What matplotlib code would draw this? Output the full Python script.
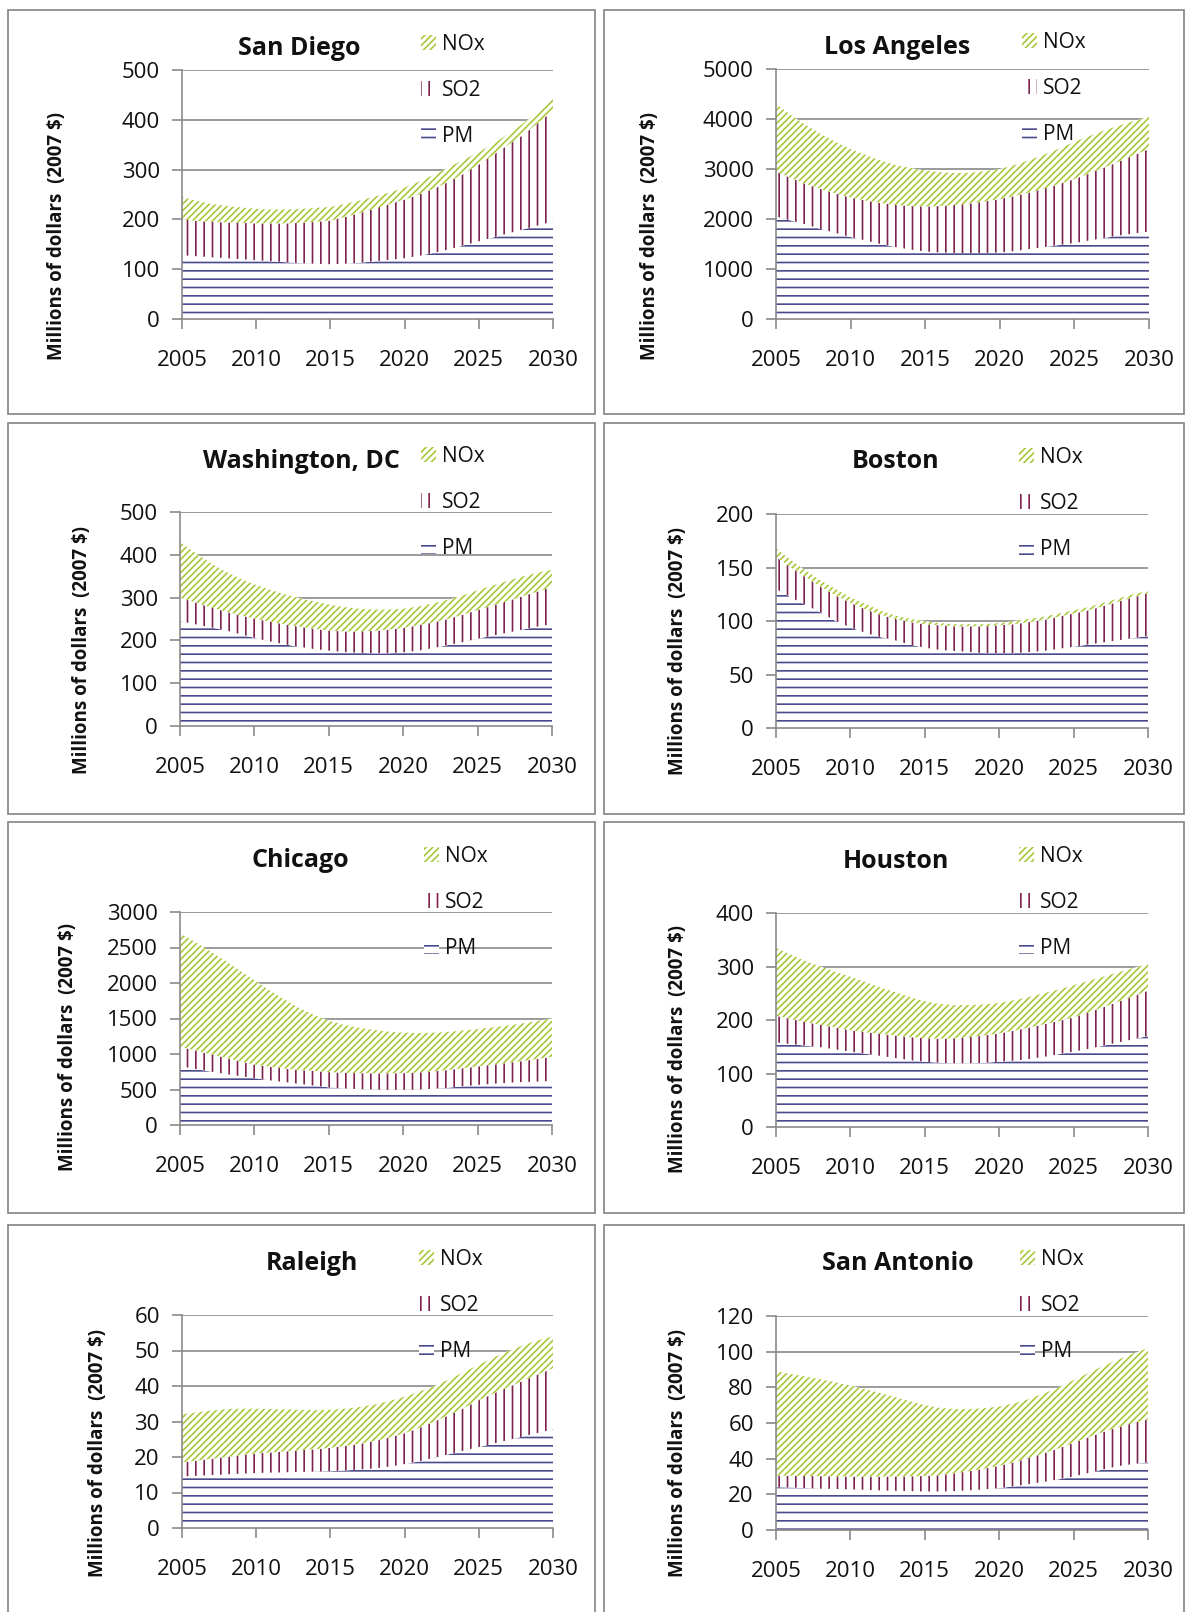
import matplotlib
matplotlib.use("Agg")
import matplotlib.pyplot as plt
from matplotlib.patches import Patch, Rectangle
import numpy as np

plt.rcParams['font.family'] = ['Open Sans', 'DejaVu Sans']
plt.rcParams['hatch.linewidth'] = 1.2

years = list(range(2005, 2031))
series_names = ["NOx", "SO2", "PM"]

# values in millions of 2007 dollars, stacked PM (bottom), SO2, NOx (top)
sd_pm = [128, 126, 124, 122, 120, 118, 116, 114, 112, 111, 110, 111, 113, 116, 119, 122, 127, 133, 140, 148, 156, 164, 172, 180, 188, 196]
sd_so2 = [72, 71, 71, 72, 73, 74, 76, 78, 81, 84, 88, 94, 100, 106, 112, 118, 123, 129, 136, 144, 154, 166, 178, 190, 206, 222]
sd_nox = [45, 40, 36, 33, 31, 29, 28, 28, 28, 28, 27, 26, 25, 24, 23, 24, 26, 28, 29, 28, 25, 22, 22, 23, 24, 25]

la_pm = [2050, 1970, 1890, 1800, 1720, 1640, 1570, 1500, 1440, 1390, 1350, 1330, 1320, 1320, 1320, 1330, 1360, 1400, 1440, 1480, 1520, 1570, 1620, 1670, 1710, 1750]
la_so2 = [900, 850, 810, 800, 790, 790, 800, 820, 840, 870, 900, 930, 960, 990, 1030, 1070, 1100, 1130, 1170, 1220, 1280, 1340, 1410, 1480, 1570, 1650]
la_nox = [1350, 1260, 1180, 1100, 1030, 970, 910, 850, 800, 760, 720, 675, 640, 615, 605, 600, 620, 650, 680, 710, 740, 750, 740, 720, 680, 650]

dc_pm = [245, 238, 231, 224, 215, 206, 198, 191, 185, 180, 176, 173, 171, 170, 170, 172, 176, 182, 189, 196, 204, 211, 218, 225, 232, 238]
dc_so2 = [55, 51, 47, 44, 44, 45, 46, 47, 47, 47, 47, 48, 50, 52, 55, 57, 59, 60, 61, 64, 67, 70, 74, 78, 82, 87]
dc_nox = [130, 116, 104, 94, 86, 80, 75, 70, 67, 64, 61, 57, 53, 50, 47, 45, 44, 44, 45, 45, 46, 47, 47, 46, 44, 40]

bos_pm = [130, 122, 115, 108, 100, 94, 89, 85, 82, 78, 75, 73, 72, 71, 70, 70, 70, 71, 72, 74, 76, 78, 80, 82, 84, 86]
bos_so2 = [30, 28, 26, 24, 24, 23, 22, 21, 20, 21, 22, 23, 23, 24, 25, 26, 27, 28, 29, 30, 31, 32, 34, 36, 38, 40]
bos_nox = [8, 7, 6, 6, 6, 5, 5, 4, 3, 3, 3, 2, 2, 2, 2, 2, 3, 3, 3, 3, 3, 3, 3, 3, 3, 2]

chi_pm = [830, 790, 755, 720, 690, 660, 630, 605, 580, 555, 530, 515, 505, 500, 495, 495, 500, 510, 525, 545, 565, 580, 595, 605, 612, 620]
chi_so2 = [270, 260, 245, 230, 210, 190, 190, 190, 195, 205, 215, 220, 225, 228, 233, 235, 240, 245, 250, 255, 260, 270, 280, 295, 318, 340]
chi_nox = [1600, 1530, 1450, 1370, 1280, 1190, 1080, 975, 875, 790, 725, 675, 640, 612, 587, 570, 555, 545, 535, 530, 525, 525, 525, 530, 535, 540]

hou_pm = [158, 155, 152, 149, 145, 141, 137, 133, 129, 125, 122, 120, 119, 119, 120, 122, 124, 127, 131, 136, 141, 146, 152, 158, 164, 170]
hou_so2 = [50, 47, 44, 42, 41, 40, 40, 41, 42, 43, 44, 45, 47, 49, 51, 53, 56, 59, 61, 62, 64, 68, 72, 76, 80, 85]
hou_nox = [127, 120, 114, 109, 104, 100, 94, 87, 81, 75, 69, 65, 62, 60, 58, 57, 57, 57, 58, 59, 60, 59, 57, 55, 53, 50]

ral_pm = [14.5, 14.7, 14.9, 15.1, 15.3, 15.5, 15.6, 15.7, 15.8, 15.9, 16.0, 16.2, 16.5, 16.8, 17.3, 18.0, 18.8, 19.8, 20.8, 21.8, 22.8, 23.8, 24.8, 25.8, 26.8, 27.8]
ral_so2 = [4.0, 4.3, 4.6, 4.9, 5.2, 5.5, 5.7, 5.9, 6.1, 6.3, 6.6, 6.9, 7.2, 7.7, 8.2, 8.7, 9.4, 10.2, 11.0, 12.0, 13.2, 14.1, 14.9, 15.7, 16.5, 17.2]
ral_nox = [13.5, 13.6, 13.6, 13.5, 13.1, 12.6, 12.2, 11.8, 11.4, 11.0, 10.7, 10.5, 10.4, 10.3, 10.3, 10.3, 10.2, 10.0, 10.1, 10.1, 10.0, 10.1, 10.2, 10.0, 9.6, 9.0]

sa_pm = [24.0, 23.8, 23.5, 23.2, 23.0, 22.8, 22.5, 22.2, 22.0, 21.8, 21.6, 21.6, 21.8, 22.2, 22.8, 23.5, 24.5, 25.7, 27.0, 28.4, 30.0, 32.0, 34.0, 35.8, 37.0, 38.0]
sa_so2 = [6.5, 6.6, 6.8, 7.0, 7.1, 7.2, 7.5, 7.8, 8.0, 8.3, 8.7, 9.2, 10.0, 10.8, 11.6, 12.5, 13.5, 14.7, 16.0, 17.4, 18.8, 20.0, 21.0, 21.8, 23.0, 24.0]
sa_nox = [58.5, 57.1, 55.7, 54.3, 52.7, 51.0, 49.0, 46.8, 44.5, 42.1, 39.7, 37.7, 36.0, 34.8, 33.9, 33.3, 33.0, 33.1, 33.5, 34.2, 35.2, 36.0, 37.0, 37.9, 39.0, 40.0]

NOX_C = "#a8c83a"
SO2_C = "#7d2350"
PM_C = "#4a4a8c"
GRID_C = "#8a8a8a"
TEXT_C = "#111111"
YLABEL = "Millions of dollars  (2007 $)"

W, H = 1189, 1612
fig = plt.figure(figsize=(W / 100, H / 100), dpi=100)

# name, data, ymax, ystep, axes box (l, t, r, b) px, title px, legend px, ylabel px
panels = [
    ("San Diego", sd_pm, sd_so2, sd_nox, 500, 100, (182, 70, 553, 319), (299, 48), (421, 43), (57, 236)),
    ("Los Angeles", la_pm, la_so2, la_nox, 5000, 1000, (776, 69, 1149, 319), (897, 47), (1022, 41), (650, 236)),
    ("Washington, DC", dc_pm, dc_so2, dc_nox, 500, 100, (180, 512, 552, 726), (301, 462), (421, 455), (82, 650)),
    ("Boston", bos_pm, bos_so2, bos_nox, 200, 50, (776, 514, 1148, 728), (896, 462), (1019, 456), (678, 651)),
    ("Chicago", chi_pm, chi_so2, chi_nox, 3000, 500, (180, 912, 552, 1125), (300, 861), (424, 855), (68, 1047)),
    ("Houston", hou_pm, hou_so2, hou_nox, 400, 100, (776, 913, 1148, 1127), (896, 861), (1019, 855), (678, 1049)),
    ("Raleigh", ral_pm, ral_so2, ral_nox, 60, 10, (182, 1315, 553, 1528), (312, 1264), (419, 1258), (98, 1453)),
    ("San Antonio", sa_pm, sa_so2, sa_nox, 120, 20, (776, 1316, 1148, 1530), (898, 1264), (1020, 1258), (678, 1453)),
]

# panel frames
for (l, r) in [(8, 595), (604, 1184)]:
    for (t, b) in [(10, 414), (423, 814), (822, 1213), (1225, 1640)]:
        fig.add_artist(Rectangle((l / W, 1 - b / H), (r - l) / W, (b - t) / H,
                                 transform=fig.transFigure, fill=False,
                                 ec="#8c8c8c", lw=1.3))

for name, pm, so2, nox, ymax, ystep, box, tpos, lpos, ypos in panels:
    l, t, r, b = box
    ax = fig.add_axes([l / W, 1 - b / H, (r - l) / W, (b - t) / H])
    pm = np.array(pm)
    so2_top = pm + np.array(so2)
    total = so2_top + np.array(nox)

    ax.fill_between(years, 0, pm, facecolor="white", edgecolor=PM_C, hatch="--", lw=0)
    ax.fill_between(years, pm, so2_top, facecolor="white", edgecolor=SO2_C, hatch="||", lw=0)
    ax.fill_between(years, so2_top, total, facecolor="white", edgecolor=NOX_C, hatch="/////", lw=0)

    ax.set_xlim(2005, 2030)
    ax.set_ylim(0, ymax)
    ax.set_xticks(range(2005, 2031, 5))
    ax.set_yticks(np.arange(0, ymax + ystep, ystep))
    ax.set_axisbelow(True)
    ax.yaxis.grid(True, color=GRID_C, lw=1.2)
    for s in ["top", "right"]:
        ax.spines[s].set_visible(False)
    for s in ["left", "bottom"]:
        ax.spines[s].set_color(GRID_C)
        ax.spines[s].set_linewidth(1.2)
    ax.tick_params(axis="both", direction="out", length=7, width=1.2, color=GRID_C,
                   labelsize=16, labelcolor=TEXT_C)
    ax.tick_params(axis="x", pad=15)
    ax.tick_params(axis="y", pad=9)

    ax.set_title(name, fontsize=18, fontweight="bold", pad=0, color=TEXT_C,
                 x=(tpos[0] - l) / (r - l), y=(b - tpos[1]) / (b - t), va="center")

    ax.set_ylabel(YLABEL, fontsize=13.5, fontweight="bold", va="center", color=TEXT_C)
    ax.yaxis.set_label_coords(ypos[0] / W, 1 - ypos[1] / H, transform=fig.transFigure)

    handles = [
        Patch(facecolor="white", edgecolor=NOX_C, hatch="/////", lw=0, label=series_names[0]),
        Patch(facecolor="white", edgecolor=SO2_C, hatch="||", lw=0, label=series_names[1]),
        Patch(facecolor="white", edgecolor=PM_C, hatch="--", lw=0, label=series_names[2]),
    ]
    leg = ax.legend(handles=handles, loc="upper left",
                    bbox_to_anchor=(lpos[0] / W, 1 - (lpos[1] - 9) / H),
                    bbox_transform=fig.transFigure, frameon=False, fontsize=15,
                    handlelength=0.7, handleheight=0.75, handletextpad=0.3,
                    labelspacing=1.2, borderpad=0, borderaxespad=0)
    for txt in leg.get_texts():
        txt.set_color(TEXT_C)

fig.savefig("out.png", dpi=100)
